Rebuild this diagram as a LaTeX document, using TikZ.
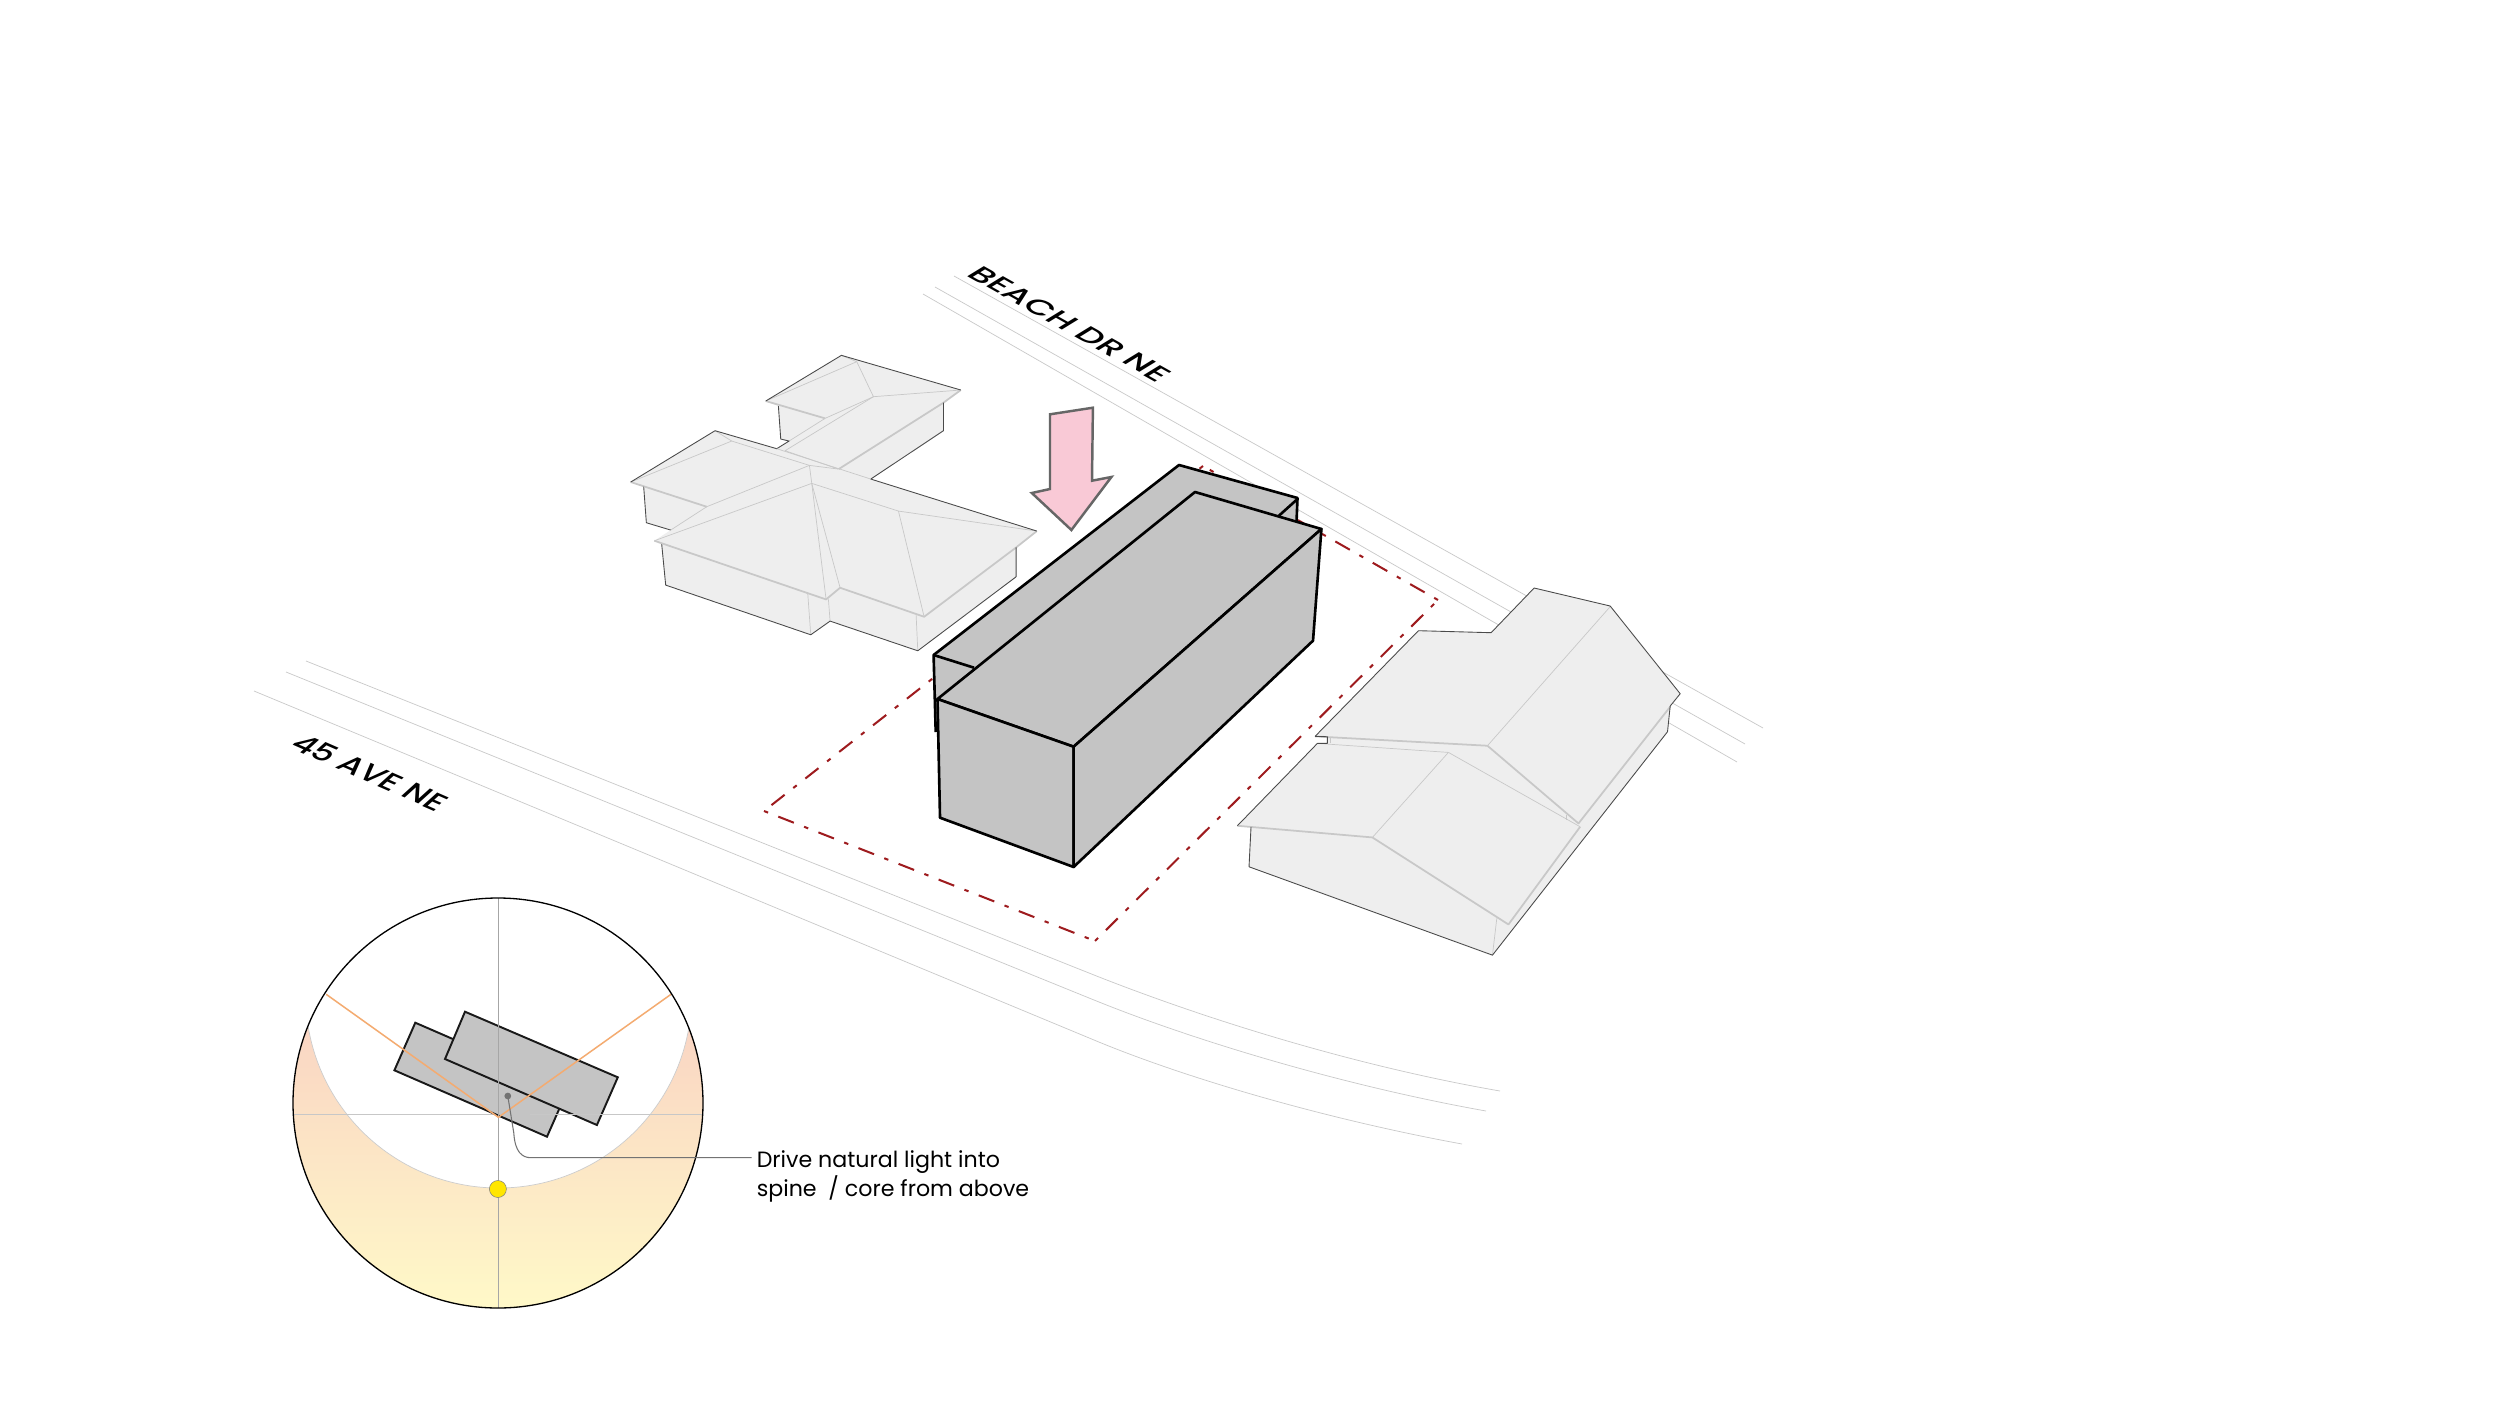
\documentclass[tikz,border=0pt]{standalone}
\usepackage{fontspec}
\setmainfont{Poppins}
\newfontfamily\roadfont{Poppins Medium}
\definecolor{hfill}{HTML}{EEEEEE}
\definecolor{hdarkc}{HTML}{4A4A4A}
\definecolor{hlightc}{HTML}{C8C8C8}
\definecolor{blockc}{HTML}{C4C4C4}
\definecolor{roadc}{HTML}{C9C9C9}
\definecolor{sitec}{HTML}{9E1B1E}
\definecolor{pinkc}{HTML}{F9C9D6}
\definecolor{orangec}{HTML}{F4AB70}
\definecolor{sunc}{HTML}{FFE600}
\definecolor{gradtop}{HTML}{F9D2C3}
\definecolor{gradmid}{HTML}{FCE3BA}
\definecolor{gradbot}{HTML}{FFF9C8}
\tikzset{
  road/.style={draw=roadc,line width=0.8pt},
  siteline/.style={draw=sitec,line width=2.3pt,dash pattern=on 5pt off 12.5pt on 19pt off 12.5pt},
  hbody/.style={fill=hfill,draw=none},
  hdark/.style={draw=hdarkc,line width=1pt,line join=round},
  hlight/.style={draw=hlightc,line width=0.8pt,line join=round},
  heave/.style={draw=hlightc,line width=2pt,line join=round},
  mass/.style={fill=blockc,draw=black,line width=3pt,line join=round},
  massline/.style={draw=black,line width=3pt},
  planbox/.style={fill=blockc,draw=black!90,line width=2.2pt,line join=miter},
  axisline/.style={draw=black!35,line width=0.8pt},
  raysline/.style={draw=orangec,line width=1.7pt},
  leader/.style={draw=black!55,line width=1.2pt},
  roadlabel/.style={transform shape,anchor=base west,inner sep=0pt,font=\roadfont\fontsize{34}{34}\selectfont},
  notetext/.style={anchor=base west,inner sep=0pt,font=\fontsize{25.2}{29}\selectfont},
}
\begin{document}
\begin{tikzpicture}[x=0.04cm,y=-0.04cm]
\useasboundingbox (0,0) rectangle (2500,1406);
\fill[white] (0,0) rectangle (2500,1406);

% Beach Dr lines
\coordinate (b1a) at (954,276); \coordinate (b1b) at (1763,728);
\coordinate (b2a) at (935,287); \coordinate (b2b) at (1745,744);
\coordinate (b3a) at (923,294); \coordinate (b3b) at (1737,762);
\draw[road] (b1a) -- (b1b);
\draw[road] (b2a) -- (b2b);
\draw[road] (b3a) -- (b3b);

% 45 Ave lines
\draw[road] (306,661) -- (1094,975) .. controls (1200,1017) and (1350,1065) .. (1500,1091);
\draw[road] (286,672) -- (1094,1000) .. controls (1190,1039) and (1340,1085) .. (1486,1111);
\draw[road] (254,691) -- (1094,1040) .. controls (1180,1076) and (1320,1118) .. (1462,1144);

% road labels
\begin{scope}[shift={(965,275)},cm={1,-0.56,0.8,0.49,(0,0)}]
  \node[roadlabel] (beach) at (0,0) {BEACH DR NE};
\end{scope}
\begin{scope}[shift={(288,747)},cm={1,-0.437,0.72,0.65,(0,0)}]
  \node[roadlabel] (ave) at (0,0) {45 AVE NE};
\end{scope}

% site boundary
\coordinate (s1) at (764,811);
\coordinate (s2) at (1095,941);
\coordinate (s3) at (1438,600);
\coordinate (s4) at (1203,466);
\draw[siteline] (s1) -- (s2);
\draw[siteline] (s2) -- (s3);
\draw[siteline] (s3) -- (s4);
\draw[siteline] (s4) -- (s1);

% left house
\begin{scope}[shift={(600,330)},x=0.013333cm,y=-0.013333cm]
  \fill[hbody] (497,213) -- (724,76) -- (1082,180) -- (1030,218) -- (1030,302) -- (812,447) -- (530,356) -- (567,333) -- (542,327) -- (535,228) -- cycle;
  \fill[hbody] (92,456) -- (345,302) -- (530,356) -- (812,447) -- (628,500) -- (212,600) -- (139,578) -- (131,470) -- cycle;
  \fill[hbody] (812,447) -- (1310,603) -- (1248,652) -- (1248,740) -- (953,962) -- (690,873) -- (632,914) -- (197,765) -- (185,642) -- (163,632) -- (320,530) -- (628,406) -- cycle;
  % back wing
  \draw[hlight] (497,213) -- (770,95) -- (724,76);
  \draw[hlight] (770,95) -- (820,200) -- (1082,180);
  \draw[hlight] (820,200) -- (675,265);
  \draw[heave] (497,213) -- (675,265);
  \draw[hlight] (820,200) -- (555,362) -- (715,417);
  \draw[hlight] (675,265) -- (567,333);
  \draw[heave] (1082,180) -- (1030,218) -- (716,417);
  % middle wing
  \draw[hlight] (92,456) -- (395,333) -- (345,302);
  \draw[hlight] (395,333) -- (628,406);
  \draw[heave] (92,456) -- (320,530);
  \draw[hlight] (320,530) -- (628,406) -- (715,417);
  \draw[hlight] (320,530) -- (212,600);
  % front
  \draw[hlight] (163,632) -- (635,460) -- (628,406);
  \draw[hlight] (635,460) -- (895,543) -- (1310,603);
  \draw[hlight] (635,460) -- (678,808);
  \draw[hlight] (635,460) -- (720,773);
  \draw[hlight] (895,543) -- (972,860);
  \draw[heave] (163,632) -- (678,808) -- (720,773) -- (972,860) -- (1248,652) -- (1310,603);
  \draw[hlight] (623,790) -- (632,914);
  \draw[hlight] (685,808) -- (690,873);
  \draw[hlight] (948,855) -- (953,962);
  % outlines
  \draw[hdark] (497,213) -- (724,76) -- (1082,180);
  \draw[hdark] (1030,218) -- (1030,302) -- (812,447) -- (1310,603);
  \draw[hdark] (535,228) -- (542,327) -- (567,333) -- (530,356) -- (345,302) -- (92,456);
  \draw[hlight] (530,356) -- (812,447);
  \draw[hdark] (131,470) -- (139,578) -- (212,600);
  \draw[hdark] (1248,652) -- (1248,740) -- (953,962) -- (690,873) -- (632,914) -- (197,765) -- (185,642);
\end{scope}

% right house
\begin{scope}[shift={(1200,560)},x=0.013333cm,y=-0.013333cm]
  \fill[hbody] (345,529) -- (655,212) -- (873,218) -- (1002,84) -- (1230,138) -- (1440,401) -- (1410,438) -- (1402,515) -- (877,1185) -- (147,920) -- (153,800) -- (112,797) -- (352,550) -- (382,550) -- (382,530) -- cycle;
  \draw[heave] (345,529) -- (862,557);
  \draw[hlight] (862,557) -- (1230,140);
  \draw[heave] (862,557) -- (1135,790) -- (1410,440);
  \draw[hlight] (352,550) -- (745,577) -- (517,832);
  \draw[hlight] (745,577) -- (1140,800);
  \draw[heave] (112,797) -- (517,832) -- (925,1093) -- (1140,800);
  \draw[hlight] (890,1075) -- (877,1185);
  \draw[hlight] (1100,765) -- (1100,780);
  \draw[hlight] (392,530) -- (392,550);
  \draw[hdark] (345,529) -- (655,212) -- (873,218) -- (1002,84) -- (1230,138) -- (1440,401) -- (1410,438) -- (1402,515) -- (877,1185) -- (147,920) -- (153,800);
  \draw[hdark] (112,797) -- (352,550) -- (382,550) -- (382,530) -- (345,529);
\end{scope}

% massing
\fill[blockc] (933.6,655) -- (1179,465) -- (1297.5,498) -- (1296.5,530) -- (1200,620) -- (935.7,732) -- cycle;
\draw[massline,line join=round] (935.7,732) -- (933.6,655) -- (1179,465) -- (1297.5,498) -- (1296.5,522);
\draw[massline] (933.6,655) -- (974,667.7);
\draw[massline] (1297.5,499) -- (1278.6,516);
\coordinate (fa) at (937.5,699);
\coordinate (fb) at (1195,492);
\coordinate (fc) at (1321.4,529);
\coordinate (fd) at (1073.6,746.7);
\coordinate (fe) at (940,817.7);
\coordinate (ff) at (1073.6,867);
\coordinate (fg) at (1313,640.7);
\draw[mass] (fa) -- (fb) -- (fc) -- (fd) -- cycle;
\draw[mass] (fa) -- (fd) -- (ff) -- (fe) -- cycle;
\draw[mass] (fd) -- (fc) -- (fg) -- (ff) -- cycle;

% pink arrow
\draw[fill=pinkc,draw=black!60,line width=2.8pt,line join=miter] (1050,414.3) -- (1092.9,407.7) -- (1092,480.7) -- (1111.4,477) -- (1071.4,530) -- (1031.8,493) -- (1050,489) -- cycle;

% sun diagram
\coordinate (dc) at (498,1103);
\coordinate (ic) at (498.6,995);
\begin{scope}
  \clip (dc) circle (205);
  \shade[top color=gradtop,middle color=gradmid,bottom color=gradbot] (293,1000) rectangle (703,1309);
  \fill[white,draw=black!20,line width=0.8pt] (ic) circle (193);
\end{scope}
\draw[axisline] (498.4,898) -- (498.4,1308);
\draw[draw=black!22,line width=1.6pt] (293,1114.7) -- (703,1114.7);
\draw[planbox] (415.3,1022.7) -- (394.4,1070.3) -- (547,1136.7) -- (568,1089) -- cycle;
\draw[planbox] (465,1011.7) -- (445,1059) -- (596.9,1125) -- (617.8,1077.3) -- cycle;
\draw[axisline] (498.4,1010) -- (498.4,1120);
\draw[draw=black!22,line width=1.4pt] (530,1114.7) -- (610,1114.7);
\coordinate (rl) at (326.2,994.3);
\coordinate (ra) at (498.4,1117.3);
\coordinate (rr) at (671,994.3);
\draw[raysline] (rl) -- (ra) -- (rr);
\draw[black,line width=1.5pt] (dc) circle (205);
\node[circle,fill=sunc,draw=black!50,line width=0.6pt,inner sep=0pt,minimum size=0.68cm] (sun) at (497.9,1189) {};
\node[circle,fill=black!55,inner sep=0pt,minimum size=0.27cm] (leaddot) at (507.8,1096) {};
\coordinate (leadend) at (751.6,1157.7);
\draw[leader] (leaddot.center) -- (513.8,1133) .. controls (515,1152) and (522,1157.7) .. (531,1157.7) -- (leadend);
\node[notetext] (note1) at (756.6,1167) {Drive natural light into};
\node[notetext] (note2) at (756.6,1196.5) {spine~ / core from above};
\end{tikzpicture}
\end{document}
